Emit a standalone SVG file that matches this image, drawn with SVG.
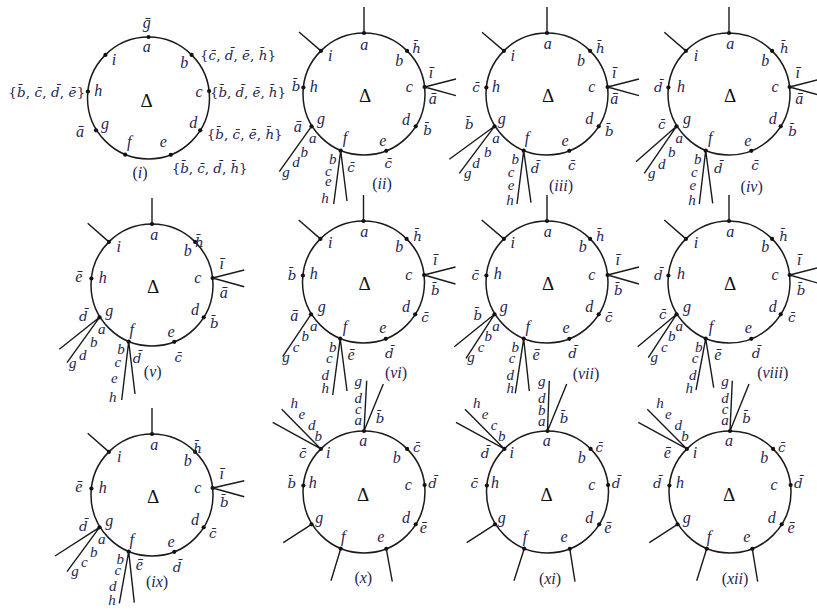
<svg xmlns="http://www.w3.org/2000/svg" width="817" height="613" viewBox="0 0 817 613">
<style>
.ring{fill:none;stroke:#1a1a1a;stroke-width:1.5}
.dot{fill:#111}
.leg{fill:none;stroke:#1a1a1a;stroke-width:1.4}
text{font-family:"Liberation Serif","Times New Roman",serif;font-style:italic;font-size:16px;fill:#25254f;text-anchor:middle}
.s{text-anchor:start}
.D{font-style:normal;font-size:19px;fill:#111}
.p{font-style:normal}
.k{font-size:15px}
.m{font-family:"DejaVu Serif",serif;font-size:13.5px}
</style>
<defs>
<g id="base">
<circle class="ring" r="61"/>
<g class="dot">
<circle cx="0" cy="-61" r="2.1"/><circle cx="43.1" cy="-43.1" r="2.1"/><circle cx="60.6" cy="-7" r="2.1"/>
<circle cx="51.7" cy="32.3" r="2.1"/><circle cx="22.3" cy="56.8" r="2.1"/><circle cx="-23.3" cy="56.7" r="2.1"/>
<circle cx="-52.5" cy="32.3" r="2.1"/><circle cx="-60.6" cy="-6.5" r="2.1"/><circle cx="-43.1" cy="-43.1" r="2.1"/>
</g>
</g>
</defs>
<rect width="817" height="613" fill="#fff"/>

<g id="fig-i" transform="translate(148.5,98)">
<use href="#base"/>
<text x="-1.8" y="-69.7">&#x1E21;</text>
<text x="-1.8" y="-45.7">a</text>
<text x="-34.5" y="-33">i</text>
<text x="35.8" y="-30.3">b</text>
<text x="-50.2" y="-2.3">h</text>
<text x="50.5" y="-1.3">c</text>
<text x="-43.5" y="31.3">g</text>
<text x="44.8" y="30.3">d</text>
<text x="-19.2" y="48.7">f</text>
<text x="14.8" y="48.7">e</text>
<text class="D" x="-1.8" y="8.7">Δ</text>
<text class="m s" x="51.5" y="-38" textLength="76" lengthAdjust="spacing"><tspan class="p">{</tspan>c&#x304;<tspan class="p">, </tspan>d&#x304;<tspan class="p">, </tspan>e&#x304;<tspan class="p">, </tspan>h&#x304;<tspan class="p">}</tspan></text>
<text class="m s" x="61.5" y="-1.5" textLength="76" lengthAdjust="spacing"><tspan class="p">{</tspan>b&#x304;<tspan class="p">, </tspan>d&#x304;<tspan class="p">, </tspan>e&#x304;<tspan class="p">, </tspan>h&#x304;<tspan class="p">}</tspan></text>
<text class="m s" x="58.2" y="41" textLength="76" lengthAdjust="spacing"><tspan class="p">{</tspan>b&#x304;<tspan class="p">, </tspan>c&#x304;<tspan class="p">, </tspan>e&#x304;<tspan class="p">, </tspan>h&#x304;<tspan class="p">}</tspan></text>
<text class="m s" x="23.2" y="75" textLength="76" lengthAdjust="spacing"><tspan class="p">{</tspan>b&#x304;<tspan class="p">, </tspan>c&#x304;<tspan class="p">, </tspan>d&#x304;<tspan class="p">, </tspan>h&#x304;<tspan class="p">}</tspan></text>
<text class="m s" x="-140.2" y="-1.5" textLength="77" lengthAdjust="spacing"><tspan class="p">{</tspan>b&#x304;<tspan class="p">, </tspan>c&#x304;<tspan class="p">, </tspan>d&#x304;<tspan class="p">, </tspan>e&#x304;<tspan class="p">}</tspan></text>
<text x="-68.5" y="39.3">&#x101;</text>
<text x="-8.5" y="79.5"><tspan class="p">(</tspan>i<tspan class="p">)</tspan></text>
</g>

<g id="fig-ii" transform="translate(364,94)">
<use href="#base"/>
<path class="leg" d="M0,-61V-87M-43.1,-43.1L-65,-62M60.6,-7L92,-15M60.6,-7L92,1.7M-52.5,32.3L-84.7,77.7M-23.3,56.7L-30.3,110M-23.3,56.7L-17,107"/>
<text class="D" x="1" y="8">Δ</text>
<text x="0.3" y="-44.5">a</text>
<text class="m" x="52.7" y="-40.7">h&#x304;</text>
<text x="35.3" y="-28.3">b</text>
<text x="-33.7" y="-33">i</text>
<text x="67" y="-16.3">&#x12B;</text>
<text x="45.3" y="-1.7">c</text>
<text x="68.7" y="10">&#x101;</text>
<text x="42" y="31">d</text>
<text class="m" x="63.7" y="41">b&#x304;</text>
<text x="18.7" y="52">e</text>
<text class="m" x="24.3" y="74.3">c&#x304;</text>
<text x="-19" y="49.3">f</text>
<text class="m" x="-13" y="77.7">c&#x304;</text>
<text class="m" x="-68" y="-3.3">b&#x304;</text>
<text x="-50.3" y="-1.7">h</text>
<text x="-43" y="30">g</text>
<text x="-66.3" y="37.7">&#x101;</text>
<text class="k" x="-51.3" y="49.3">a</text>
<text class="k" x="-59.7" y="62.7">b</text>
<text class="k" x="-68" y="72.7">d</text>
<text class="k" x="-78" y="83.3">g</text>
<text class="k" x="-31.3" y="70">b</text>
<text class="k" x="-35.7" y="81.7">c</text>
<text class="k" x="-35.7" y="92">e</text>
<text class="k" x="-39" y="109.3">h</text>
<text x="18" y="95.3"><tspan class="p">(</tspan>ii<tspan class="p">)</tspan></text>
</g>

<g id="fig-iii" transform="translate(547,94)">
<use href="#base"/>
<path class="leg" d="M0,-61V-87M-43.1,-43.1L-65,-61.7M60.6,-7L92,-15M60.6,-7L92,1.7M-52.5,32.3L-97.7,65.3M-52.5,32.3L-87.7,79.3M-23.3,56.7L-30,110M-23.3,56.7L-16,108.7"/>
<text class="D" x="1" y="8">Δ</text>
<text x="0.7" y="-44.7">a</text>
<text class="m" x="53.3" y="-40.7">h&#x304;</text>
<text x="34" y="-28.3">b</text>
<text x="-34.3" y="-33">i</text>
<text x="67.3" y="-16.3">&#x12B;</text>
<text x="44.7" y="-1.7">c</text>
<text x="67.3" y="10.3">&#x101;</text>
<text x="42.3" y="30">d</text>
<text class="m" x="62.3" y="42">b&#x304;</text>
<text x="18" y="51.7">e</text>
<text class="m" x="24.7" y="76">c&#x304;</text>
<text x="-20" y="48.7">f</text>
<text class="m" x="-12" y="79.3">d&#x304;</text>
<text class="m" x="-71" y="-1.7">c&#x304;</text>
<text x="-51" y="-1.7">h</text>
<text x="-45.3" y="30">g</text>
<text class="m" x="-77.7" y="35">b&#x304;</text>
<text class="k" x="-51" y="49.3">a</text>
<text class="k" x="-59.3" y="62.7">b</text>
<text class="k" x="-71" y="73.7">d</text>
<text class="k" x="-79.3" y="83.7">g</text>
<text class="k" x="-31.7" y="70">b</text>
<text class="k" x="-36" y="82.7">c</text>
<text class="k" x="-36" y="96">e</text>
<text class="k" x="-37" y="111">h</text>
<text x="14" y="96.7"><tspan class="p">(</tspan>iii<tspan class="p">)</tspan></text>
</g>

<g id="fig-iv" transform="translate(729,94)">
<use href="#base"/>
<path class="leg" d="M0,-61V-87M-43.1,-43.1L-64.7,-61.7M60.6,-7L92,-15M60.6,-7L92,1.7M-52.5,32.3L-93,67.7M-52.5,32.3L-84.7,79.3M-23.3,56.7L-29.7,110M-23.3,56.7L-16.3,109.3"/>
<text class="D" x="1" y="8">Δ</text>
<text x="1.3" y="-44.7">a</text>
<text class="m" x="55.3" y="-40.7">h&#x304;</text>
<text x="36.3" y="-28.3">b</text>
<text x="-33" y="-33">i</text>
<text x="68.7" y="-16.3">&#x12B;</text>
<text x="46" y="-1.7">c</text>
<text x="70.3" y="10.3">&#x101;</text>
<text x="43.7" y="30">d</text>
<text class="m" x="63.7" y="42">b&#x304;</text>
<text x="18.7" y="51.7">e</text>
<text class="m" x="26" y="76">c&#x304;</text>
<text x="-18.7" y="48.7">f</text>
<text class="m" x="-10.7" y="79.3">d&#x304;</text>
<text class="m" x="-70.7" y="-1.7">d&#x304;</text>
<text x="-48" y="-1.7">h</text>
<text x="-42" y="30">g</text>
<text class="m" x="-67.3" y="35">c&#x304;</text>
<text class="k" x="-49.7" y="49.3">a</text>
<text class="k" x="-57.3" y="62.7">b</text>
<text class="k" x="-67.3" y="75">d</text>
<text class="k" x="-77.3" y="84">g</text>
<text class="k" x="-31.3" y="70">b</text>
<text class="k" x="-34.7" y="82.7">c</text>
<text class="k" x="-36.3" y="96">e</text>
<text class="k" x="-37" y="110.5">h</text>
<text x="22.7" y="98"><tspan class="p">(</tspan>iv<tspan class="p">)</tspan></text>
</g>

<g id="fig-v" transform="translate(152,285)">
<use href="#base"/>
<path class="leg" d="M0,-61V-87M-43.1,-43.1L-64.3,-61.7M60.6,-7L92.3,-15M60.6,-7L92.3,1.7M-52.5,32.3L-92.7,64.3M-52.5,32.3L-85,77.7M-23.3,56.7L-30.3,115M-23.3,56.7L-17,109"/>
<text class="D" x="1" y="8">Δ</text>
<text x="2.3" y="-45">a</text>
<text class="m" x="47.3" y="-37.7">h&#x304;</text>
<text x="35.7" y="-29">b</text>
<text x="-33.3" y="-33.3">i</text>
<text x="69.7" y="-16.3">&#x12B;</text>
<text x="45.7" y="-2.3">c</text>
<text x="71.7" y="13.3">&#x101;</text>
<text x="43" y="30">d</text>
<text class="m" x="62.3" y="42.7">b&#x304;</text>
<text x="19" y="51.7">e</text>
<text class="m" x="26.3" y="76.7">c&#x304;</text>
<text x="-20.3" y="50">f</text>
<text class="m" x="-15" y="77.7">d&#x304;</text>
<text x="-73.3" y="-3.3">&#x113;</text>
<text x="-49.3" y="-2.3">h</text>
<text x="-42.7" y="30.7">g</text>
<text class="m" x="-68.7" y="35.7">d&#x304;</text>
<text class="k" x="-50.3" y="49">a</text>
<text class="k" x="-58.3" y="62.3">b</text>
<text class="k" x="-69.3" y="75">d</text>
<text class="k" x="-79.3" y="83.3">g</text>
<text class="k" x="-31" y="69">b</text>
<text class="k" x="-34.3" y="82.3">c</text>
<text class="k" x="-37.7" y="97.7">e</text>
<text class="k" x="-39.3" y="117">h</text>
<text x="0.7" y="92"><tspan class="p">(</tspan>v<tspan class="p">)</tspan></text>
</g>

<g id="fig-vi" transform="translate(363.5,282)">
<use href="#base"/>
<path class="leg" d="M0,-61V-87M-43.1,-43.1L-64.8,-62M60.6,-7L92,-15M60.6,-7L92,2M-52.5,32.3L-80.8,74.7M-23.3,56.7L-30.8,113M-23.3,56.7L-16.5,109"/>
<text class="D" x="1" y="8">Δ</text>
<text x="0.8" y="-45.3">a</text>
<text class="m" x="54.2" y="-41.3">h&#x304;</text>
<text x="35.8" y="-29.7">b</text>
<text x="-33.2" y="-33.7">i</text>
<text x="71.8" y="-17">&#x12B;</text>
<text x="45.2" y="-2">c</text>
<text class="m" x="71.8" y="13">b&#x304;</text>
<text x="42.5" y="30.3">d</text>
<text class="m" x="61.5" y="40.3">c&#x304;</text>
<text x="19.2" y="51.3">e</text>
<text class="m" x="25.8" y="76.3">d&#x304;</text>
<text x="-18.5" y="49.7">f</text>
<text x="-12.5" y="78">&#x113;</text>
<text class="m" x="-71.5" y="-2">b&#x304;</text>
<text x="-49.8" y="-3">h</text>
<text x="-41.8" y="29.7">g</text>
<text x="-69.2" y="39">&#x101;</text>
<text class="k" x="-49.8" y="49">a</text>
<text class="k" x="-58.2" y="58.7">b</text>
<text class="k" x="-67.5" y="69.7">c</text>
<text class="k" x="-77.5" y="79.7">g</text>
<text class="k" x="-30.8" y="69.7">b</text>
<text class="k" x="-34.2" y="81.3">c</text>
<text class="k" x="-38.2" y="98">d</text>
<text class="k" x="-38.2" y="111.3">h</text>
<text x="32.5" y="95.7"><tspan class="p">(</tspan>vi<tspan class="p">)</tspan></text>
</g>

<g id="fig-vii" transform="translate(547,282)">
<use href="#base"/>
<path class="leg" d="M0,-61V-87M-43.1,-43.1L-65.3,-62M60.6,-7L92,-15M60.6,-7L92,2M-52.5,32.3L-92.7,64.7M-52.5,32.3L-81,76.3M-23.3,56.7L-31.7,111.3M-23.3,56.7L-17.7,109"/>
<text class="D" x="1" y="8">Δ</text>
<text x="0.7" y="-45.3">a</text>
<text class="m" x="53.3" y="-41.3">h&#x304;</text>
<text x="35.7" y="-29.7">b</text>
<text x="-34.3" y="-33.7">i</text>
<text x="70.7" y="-17">&#x12B;</text>
<text x="44.7" y="-2">c</text>
<text class="m" x="71.3" y="13">b&#x304;</text>
<text x="42.3" y="30.3">d</text>
<text class="m" x="61.7" y="40.3">c&#x304;</text>
<text x="19" y="51.3">e</text>
<text class="m" x="25.7" y="76.3">d&#x304;</text>
<text x="-19.3" y="49.7">f</text>
<text x="-11" y="78">&#x113;</text>
<text class="m" x="-71.7" y="-2">c&#x304;</text>
<text x="-49.3" y="-3">h</text>
<text x="-43.3" y="29.7">g</text>
<text class="m" x="-69.3" y="38">b&#x304;</text>
<text class="k" x="-51" y="49">a</text>
<text class="k" x="-58.7" y="58.7">b</text>
<text class="k" x="-66" y="69.7">c</text>
<text class="k" x="-76" y="79.7">g</text>
<text class="k" x="-31.7" y="69.7">b</text>
<text class="k" x="-35" y="81.3">c</text>
<text class="k" x="-36.7" y="98">d</text>
<text class="k" x="-36.7" y="111.3">h</text>
<text x="39" y="96.7"><tspan class="p">(</tspan>vii<tspan class="p">)</tspan></text>
</g>

<g id="fig-viii" transform="translate(729,282)">
<use href="#base"/>
<path class="leg" d="M0,-61V-87M-43.1,-43.1L-64.7,-62M60.6,-7L92,-15M60.6,-7L92,2M-52.5,32.3L-91.3,64.7M-52.5,32.3L-80.7,75.7M-23.3,56.7L-33,108M-23.3,56.7L-15.3,105.7"/>
<text class="D" x="1" y="8">Δ</text>
<text x="1.3" y="-45.3">a</text>
<text class="m" x="54.7" y="-41.3">h&#x304;</text>
<text x="36.3" y="-29.7">b</text>
<text x="-33" y="-33.7">i</text>
<text x="70.3" y="-17">&#x12B;</text>
<text x="46" y="-2">c</text>
<text class="m" x="72" y="13">b&#x304;</text>
<text x="43.7" y="30.3">d</text>
<text class="m" x="62.7" y="40.3">c&#x304;</text>
<text x="19.3" y="51.3">e</text>
<text class="m" x="27" y="76.3">d&#x304;</text>
<text x="-18" y="49.7">f</text>
<text x="-11.3" y="78">&#x113;</text>
<text class="m" x="-70.7" y="-2">d&#x304;</text>
<text x="-48" y="-3">h</text>
<text x="-42" y="29.7">g</text>
<text class="m" x="-66.3" y="37">c&#x304;</text>
<text class="k" x="-49.7" y="49">a</text>
<text class="k" x="-57.3" y="58.7">b</text>
<text class="k" x="-64.7" y="69.7">c</text>
<text class="k" x="-74.7" y="79.7">g</text>
<text class="k" x="-30.3" y="69.7">b</text>
<text class="k" x="-34" y="81.3">c</text>
<text class="k" x="-36.3" y="98">d</text>
<text class="k" x="-39.7" y="111.3">h</text>
<text x="43.7" y="96"><tspan class="p">(</tspan>viii<tspan class="p">)</tspan></text>
</g>

<g id="fig-ix" transform="translate(152,495)">
<use href="#base"/>
<path class="leg" d="M0,-61V-87M-43.1,-43.1L-64.3,-61.7M60.6,-7L92.3,-14.3M60.6,-7L92.3,1.7M-52.5,32.3L-97,61M-52.5,32.3L-85,76.7M-23.3,56.7L-32.7,108.3M-23.3,56.7L-17.7,107.7"/>
<text class="D" x="1" y="8">Δ</text>
<text x="2.3" y="-45">a</text>
<text class="m" x="45.7" y="-42">h&#x304;</text>
<text x="35.7" y="-29">b</text>
<text x="-32.7" y="-33.3">i</text>
<text x="69.7" y="-16.3">&#x12B;</text>
<text x="45.7" y="-2.3">c</text>
<text class="m" x="72.3" y="12">b&#x304;</text>
<text x="43" y="30">d</text>
<text class="m" x="60.7" y="42.7">c&#x304;</text>
<text x="19" y="51.7">e</text>
<text class="m" x="25" y="76.7">d&#x304;</text>
<text x="-20.3" y="50">f</text>
<text x="-12.7" y="75">&#x113;</text>
<text x="-73.3" y="-3.3">&#x113;</text>
<text x="-49.3" y="-2.3">h</text>
<text x="-42.7" y="30.7">g</text>
<text class="m" x="-68.7" y="35.7">d&#x304;</text>
<text class="k" x="-50.3" y="49">a</text>
<text class="k" x="-58.3" y="62.3">b</text>
<text class="k" x="-67.7" y="72">c</text>
<text class="k" x="-77" y="81">g</text>
<text class="k" x="-31.7" y="69">b</text>
<text class="k" x="-34.3" y="80.3">c</text>
<text class="k" x="-39.3" y="95.7">d</text>
<text class="k" x="-40" y="110">h</text>
<text x="5" y="91.7"><tspan class="p">(</tspan>ix<tspan class="p">)</tspan></text>
</g>

<g id="fig-x" transform="translate(364,492)">
<use href="#base"/>
<path class="leg" d="M0,-61L2.7,-111.3M0,-61L19.3,-108M-43.1,-43.1L-82.3,-82.7M-43.1,-43.1L-91.3,-69.7M-52.5,32.3L-80.7,50.7M-23.3,56.7L-33,88.7M22.3,56.8L28.3,89.7"/>
<text class="D" x="-1" y="9">Δ</text>
<text x="-0.7" y="-46">a</text>
<text class="k" x="-5.7" y="-106">g</text>
<text class="k" x="-5.7" y="-88.7">d</text>
<text class="k" x="-5.7" y="-78">c</text>
<text class="k" x="-5.7" y="-67">a</text>
<text class="m" x="16" y="-68.7">b&#x304;</text>
<text class="k" x="-69.7" y="-83.7">h</text>
<text class="k" x="-62.3" y="-72.7">e</text>
<text class="k" x="-52.3" y="-62">d</text>
<text class="k" x="-45.7" y="-51.3">b</text>
<text class="m" x="-61.3" y="-33.7">c&#x304;</text>
<text x="-35.7" y="-33.7">i</text>
<text class="m" x="52.7" y="-40.3">c&#x304;</text>
<text x="32.7" y="-29.3">b</text>
<text class="m" x="68.7" y="-3.7">d&#x304;</text>
<text x="44.3" y="-2">c</text>
<text x="-51.3" y="-3.7">h</text>
<text class="m" x="-72.3" y="-3.7">b&#x304;</text>
<text x="-44.7" y="30.7">g</text>
<text x="42" y="30.7">d</text>
<text x="59.3" y="41.3">&#x113;</text>
<text x="-20.7" y="50.3">f</text>
<text x="16.7" y="50.3">e</text>
<text x="-0.7" y="91.3"><tspan class="p">(</tspan>x<tspan class="p">)</tspan></text>
</g>

<g id="fig-xi" transform="translate(547.5,492)">
<use href="#base"/>
<path class="leg" d="M0,-61L1.8,-111.3M0,-61L19.2,-108M-43.1,-43.1L-82.5,-82.7M-43.1,-43.1L-91.5,-69.7M-52.5,32.3L-80.8,50.7M-23.3,56.7L-33.5,88.7M22.3,56.8L27.5,89.7"/>
<text class="D" x="-1" y="9">Δ</text>
<text x="-0.8" y="-46">a</text>
<text class="k" x="-5.8" y="-106">g</text>
<text class="k" x="-5.8" y="-88.7">d</text>
<text class="k" x="-5.8" y="-77">b</text>
<text class="k" x="-5.8" y="-66">a</text>
<text class="m" x="16.5" y="-68.7">b&#x304;</text>
<text class="k" x="-70.8" y="-83.7">h</text>
<text class="k" x="-62.5" y="-72.7">e</text>
<text class="k" x="-53.5" y="-62">c</text>
<text class="k" x="-45.8" y="-51.3">b</text>
<text class="m" x="-62.5" y="-33.7">d&#x304;</text>
<text x="-35.8" y="-33.7">i</text>
<text class="m" x="51.8" y="-40.3">c&#x304;</text>
<text x="34.2" y="-29.3">b</text>
<text class="m" x="68.5" y="-3.7">d&#x304;</text>
<text x="44.2" y="-2">c</text>
<text x="-52.5" y="-3.7">h</text>
<text class="m" x="-73.2" y="-3.7">c&#x304;</text>
<text x="-45.8" y="30.7">g</text>
<text x="41.8" y="30.7">d</text>
<text x="60.2" y="41.3">&#x113;</text>
<text x="-22.5" y="50.3">f</text>
<text x="16.5" y="50.3">e</text>
<text x="2.5" y="92"><tspan class="p">(</tspan>xi<tspan class="p">)</tspan></text>
</g>

<g id="fig-xii" transform="translate(730,492)">
<use href="#base"/>
<path class="leg" d="M0,-61L2.3,-111.3M0,-61L19,-108M-43.1,-43.1L-82.7,-82.7M-43.1,-43.1L-91.7,-69.7M-52.5,32.3L-80.7,50.7M-23.3,56.7L-33.3,88.7M22.3,56.8L27.7,89.7"/>
<text class="D" x="-1" y="9">Δ</text>
<text x="-1" y="-46">a</text>
<text class="k" x="-5" y="-106">g</text>
<text class="k" x="-5" y="-88.7">d</text>
<text class="k" x="-5" y="-78">c</text>
<text class="k" x="-5" y="-67">a</text>
<text class="m" x="16.7" y="-68.7">b&#x304;</text>
<text class="k" x="-70" y="-83.7">h</text>
<text class="k" x="-61.7" y="-72.7">e</text>
<text class="k" x="-51.7" y="-62">d</text>
<text class="k" x="-45" y="-51.3">b</text>
<text x="-62.7" y="-33.7">&#x113;</text>
<text x="-35" y="-33.7">i</text>
<text class="m" x="51.7" y="-40.3">c&#x304;</text>
<text x="34.3" y="-29.3">b</text>
<text class="m" x="68.3" y="-3.7">d&#x304;</text>
<text x="44" y="-2">c</text>
<text x="-50" y="-3.7">h</text>
<text class="m" x="-72.7" y="-3.7">d&#x304;</text>
<text x="-43.3" y="30.7">g</text>
<text x="41.7" y="30.7">d</text>
<text x="61" y="41.3">&#x113;</text>
<text x="-21" y="50.3">f</text>
<text x="16.7" y="50.3">e</text>
<text x="5" y="92"><tspan class="p">(</tspan>xii<tspan class="p">)</tspan></text>
</g>
</svg>
